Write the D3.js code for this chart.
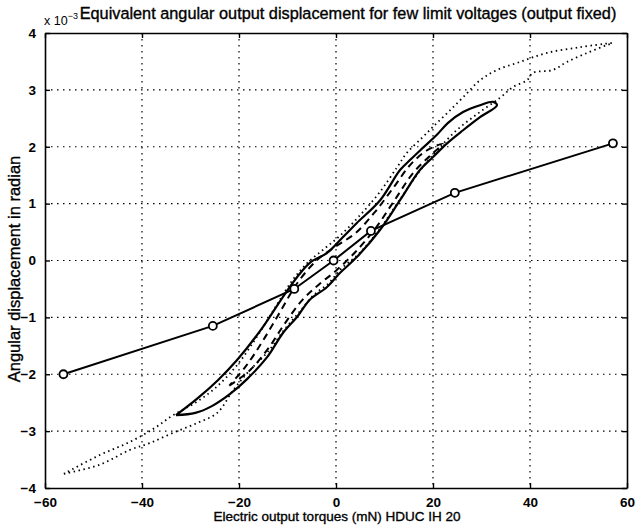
<!DOCTYPE html>
<html>
<head>
<meta charset="utf-8">
<title></title>
<style>
  body { margin: 0; background: #fff; }
  svg { display: block; font-family: "Liberation Sans", Arial, sans-serif; }
</style>
<script src="https://d3js.org/d3.v7.min.js"></script>
</head>
<body>
<script>
// values (y in units of 1e-3 rad)
var xTicks = [-60, -40, -20, 0, 20, 40, 60]
var yTicks = [-4, -3, -2, -1, 0, 1, 2, 3, 4]

// straight line with circle markers
var markX = [-56.2, -25.4, -8.6, -0.5, 7.2, 24.5, 57.1]
var markY = [-2.0, -1.15, -0.5, 0.0, 0.52, 1.19, 2.06]

// solid hysteresis loop
var solidX = [-33.0, -29.0, -25.6, -21.9, -18.4, -14.2, -10.9, -8.0, -5.4, -1.9, 0.8, 4.3, 9.1, 13.2, 17.3, 20.0, 22.9, 26.2, 29.7, 33.2,
              32.4, 29.7, 26.2, 23.1, 20.8, 17.9, 15.3, 13.2, 9.1, 4.3, 1.4, -1.9, -5.4, -8.0, -11.1, -15.5, -20.4, -24.3, -28.5, -33.0]
var solidY = [-2.72, -2.68, -2.56, -2.35, -2.09, -1.70, -1.27, -0.99, -0.69, -0.47, -0.22, 0.06, 0.54, 1.06, 1.59, 1.82, 2.06, 2.29, 2.52, 2.73,
              2.79, 2.73, 2.61, 2.42, 2.21, 1.98, 1.77, 1.59, 1.06, 0.66, 0.41, 0.13, -0.04, -0.29, -0.66, -1.22, -1.75, -2.10, -2.42, -2.72]

// dashed hysteresis loop
var dashX = [-22.0, -18.0, -14.0, -10.5, -7.0, -3.5, 0.0, 4.0, 8.0, 12.0, 16.0, 19.5, 22.0,
             19.0, 15.5, 12.0, 8.0, 4.0, 0.0, -4.0, -8.0, -11.5, -15.0, -18.5, -22.0]
var dashY = [-2.20, -1.95, -1.55, -1.10, -0.70, -0.42, -0.18, 0.15, 0.55, 1.05, 1.55, 1.85, 2.05,
             1.95, 1.70, 1.30, 0.85, 0.48, 0.25, 0.0, -0.40, -0.90, -1.40, -1.85, -2.20]

// dotted hysteresis loop
var dotX = [-56.1, -48.7, -42.5, -38.4, -33.6, -28.7, -24.5, -21.2, -18.0, -14.0, -10.5, -7.5, -4.5, -1.5, 1.0, 4.5, 9.0, 13.0, 17.5, 21.0, 25.0, 29.5, 33.8, 36.5, 39.4, 40.6, 44.7, 47.6, 51.8, 55.9, 57.0,
            56.5, 50.3, 43.5, 37.9, 33.2, 29.7, 26.2, 22.9, 20.0, 17.9, 14.6, 12.6, 9.0, 5.0, 1.0, -2.5, -6.0, -9.0, -12.0, -16.0, -20.5, -25.0, -29.0, -33.6, -37.3, -42.5, -48.7, -56.1]
var dotY = [-3.75, -3.59, -3.33, -3.21, -3.03, -2.86, -2.68, -2.28, -1.95, -1.60, -1.20, -0.90, -0.60, -0.40, -0.15, 0.10, 0.55, 1.05, 1.60, 1.95, 2.30, 2.60, 2.86, 3.05, 3.17, 3.30, 3.35, 3.49, 3.65, 3.79, 3.82,
            3.82, 3.75, 3.65, 3.49, 3.35, 3.17, 2.87, 2.59, 2.35, 2.17, 1.89, 1.64, 1.20, 0.80, 0.45, 0.20, -0.05, -0.35, -0.75, -1.30, -1.85, -2.25, -2.50, -2.72, -2.94, -3.19, -3.42, -3.75]

var margin = { left: 45, top: 33, right: 9, bottom: 40 }
var width = 636 - margin.left - margin.right
var height = 528 - margin.top - margin.bottom

var svg = d3.select("body").append("svg")
    .attr("width", 636)
    .attr("height", 528)

var g = svg.append("g")
    .attr("transform", "translate(" + margin.left + "," + margin.top + ")")

var x = d3.scaleLinear().domain([-60, 60]).range([0, width])
var y = d3.scaleLinear().domain([-4, 4]).range([height, 0])

// grid
g.append("g").selectAll("line")
    .data(xTicks.slice(1, -1))
    .enter().append("line")
    .attr("x1", d => x(d)).attr("x2", d => x(d))
    .attr("y1", 0).attr("y2", height)
    .attr("stroke", "#000").attr("stroke-width", 1.2)
    .attr("stroke-dasharray", "1.5,4.5")

g.append("g").selectAll("line")
    .data(yTicks.slice(1, -1))
    .enter().append("line")
    .attr("y1", d => y(d)).attr("y2", d => y(d))
    .attr("x1", 0).attr("x2", width)
    .attr("stroke", "#000").attr("stroke-width", 1.2)
    .attr("stroke-dasharray", "1.5,4.5")

// axes, ticks inside like matlab
var minus = d => d < 0 ? "\u2212" + Math.abs(d) : "" + d
var xb = g.append("g").attr("transform", "translate(0," + height + ")")
    .call(d3.axisBottom(x).tickValues(xTicks).tickSizeInner(-5).tickSizeOuter(0).tickPadding(9).tickFormat(minus))
var xt = g.append("g")
    .call(d3.axisTop(x).tickValues(xTicks).tickSizeInner(-5).tickSizeOuter(0).tickFormat(""))
var yl = g.append("g")
    .call(d3.axisLeft(y).tickValues(yTicks).tickSizeInner(-5).tickSizeOuter(0).tickPadding(9).tickFormat(minus))
var yr = g.append("g").attr("transform", "translate(" + width + ",0)")
    .call(d3.axisRight(y).tickValues(yTicks).tickSizeInner(-5).tickSizeOuter(0).tickFormat(""))

;[xb, xt, yl, yr].forEach(function(a) {
  a.select(".domain").attr("stroke", "#000").attr("stroke-width", 1.6)
  a.selectAll(".tick line").attr("stroke", "#000").attr("stroke-width", 1.4)
  a.selectAll("text")
    .attr("font-family", "Liberation Sans, Arial, sans-serif")
    .attr("font-size", "13.5px")
    .attr("font-weight", "bold")
    .attr("fill", "#000")
})
xt.selectAll("text").remove()
yr.selectAll("text").remove()

// data lines
function pts(xs, ys) { return xs.map((v, i) => [v, ys[i]]) }
var line = d3.line().x(d => x(d[0])).y(d => y(d[1])).curve(d3.curveCatmullRom.alpha(0.5))

g.append("path").datum(pts(dotX, dotY))
    .attr("d", line).attr("fill", "none")
    .attr("stroke", "#000").attr("stroke-width", 1.8)
    .attr("stroke-dasharray", "1.5,3.5")

g.append("path").datum(pts(dashX, dashY))
    .attr("d", line).attr("fill", "none")
    .attr("stroke", "#000").attr("stroke-width", 2)
    .attr("stroke-dasharray", "7,5")

g.append("path").datum(pts(solidX, solidY))
    .attr("d", line).attr("fill", "none")
    .attr("stroke", "#000").attr("stroke-width", 2.2)

var straight = d3.line().x(d => x(d[0])).y(d => y(d[1]))
g.append("path").datum(pts(markX, markY))
    .attr("d", straight).attr("fill", "none")
    .attr("stroke", "#000").attr("stroke-width", 2)

g.append("g").selectAll("circle")
    .data(pts(markX, markY))
    .enter().append("circle")
    .attr("cx", d => x(d[0])).attr("cy", d => y(d[1]))
    .attr("r", 4)
    .attr("fill", "#fff").attr("stroke", "#000").attr("stroke-width", 1.8)

// labels
var ex = svg.append("text").attr("x", 44).attr("y", 25).attr("font-size", "12.5px")
ex.append("tspan").text("x 10")
ex.append("tspan").attr("dy", -6).attr("font-size", "9px").text("\u22123")

svg.append("text")
    .attr("x", 348).attr("y", 19)
    .attr("text-anchor", "middle")
    .attr("font-size", "16.3px")
    .attr("stroke", "#000").attr("stroke-width", 0.35)
    .style("paint-order", "stroke")
    .text("Equivalent angular output displacement for few limit voltages (output fixed)")

svg.append("text")
    .attr("x", 337).attr("y", 521)
    .attr("text-anchor", "middle")
    .attr("font-size", "13.5px")
    .attr("stroke", "#000").attr("stroke-width", 0.35)
    .text("Electric output torques (mN) HDUC IH 20")

svg.append("text")
    .attr("transform", "translate(20,269) rotate(-90)")
    .attr("text-anchor", "middle")
    .attr("font-size", "16.5px")
    .attr("stroke", "#000").attr("stroke-width", 0.35)
    .text("Angular displacement in radian")
</script>
</body>
</html>
